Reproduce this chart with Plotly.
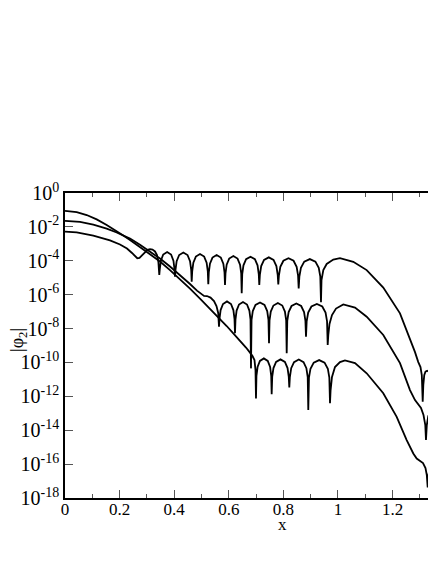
import numpy as np
import plotly.graph_objects as go

# x positions and log10(|phi_2|), one list pair per curve
# top curve: oscillations near 1e-4
x_top = [0.0, 0.0429, 0.1037, 0.1648, 0.2015, 0.2271, 0.2454, 0.2564, 0.2648, 0.2729,
         0.2821, 0.2930, 0.3022, 0.3114, 0.3205, 0.3297, 0.3370, 0.3421, 0.3454,
         0.3471, 0.3512, 0.3598, 0.3742, 0.3885, 0.3972, 0.4012, 0.4029,
         0.4047, 0.4090, 0.4182, 0.4335, 0.4488, 0.4580, 0.4623, 0.4641,
         0.4659, 0.4702, 0.4793, 0.4945, 0.5097, 0.5188, 0.5231, 0.5249,
         0.5267, 0.5310, 0.5402, 0.5555, 0.5708, 0.5800, 0.5843, 0.5861,
         0.5879, 0.5922, 0.6014, 0.6167, 0.6320, 0.6412, 0.6455, 0.6473,
         0.6492, 0.6537, 0.6634, 0.6795, 0.6956, 0.7053, 0.7098, 0.7117,
         0.7138, 0.7187, 0.7291, 0.7465, 0.7639, 0.7743, 0.7792, 0.7813,
         0.7835, 0.7888, 0.8000, 0.8187, 0.8373, 0.8485, 0.8538, 0.8560,
         0.8585, 0.8642, 0.8764, 0.8969, 0.9173, 0.9295, 0.9352, 0.9377,
         0.9396, 0.9462, 0.9586, 0.9828, 1.0073, 1.0560, 1.1051, 1.1659, 1.2271, 1.2516,
         1.2637, 1.2821, 1.2941, 1.3022, 1.3070, 1.3103, 1.3125, 1.3161, 1.3205, 1.3267,
         1.3333, 1.3377, 1.3410, 1.3433, 1.3462, 1.3517, 1.3590, 1.3700]
e_top = [-2.28, -2.32, -2.51, -2.80, -3.04, -3.28, -3.54, -3.75, -3.85, -3.83,
         -3.66, -3.47, -3.35, -3.31, -3.34, -3.45, -3.66, -4.07, -4.84,
         -4.51, -3.99, -3.63, -3.48, -3.63, -3.99, -4.51, -4.94,
         -4.54, -4.02, -3.66, -3.51, -3.66, -4.02, -4.54, -5.24,
         -4.63, -4.11, -3.75, -3.60, -3.75, -4.11, -4.63, -5.39,
         -4.69, -4.17, -3.81, -3.66, -3.81, -4.17, -4.69, -5.43,
         -4.75, -4.23, -3.87, -3.72, -3.87, -4.23, -4.75, -5.92,
         -4.79, -4.27, -3.91, -3.76, -3.91, -4.27, -4.79, -5.43,
         -4.83, -4.31, -3.95, -3.80, -3.95, -4.31, -4.83, -5.40,
         -4.88, -4.36, -4.00, -3.85, -4.00, -4.36, -4.88, -5.63,
         -4.93, -4.41, -4.05, -3.90, -4.05, -4.41, -4.93, -6.45,
         -5.14, -4.55, -4.19, -3.93, -3.85, -4.06, -4.55, -5.58, -7.10, -8.09,
         -8.59, -9.39, -9.98, -10.27, -10.74, -12.32, -11.33, -10.74, -10.54, -10.49,
         -10.54, -10.74, -11.33, -12.12, -11.16, -10.68, -10.54, -10.50]

# middle curve: oscillations near 1e-7
x_mid = [0.0, 0.0549, 0.1037, 0.1527, 0.1894, 0.2136, 0.2381, 0.2747, 0.3114, 0.3480,
         0.3846, 0.4212, 0.4579, 0.4835, 0.5007, 0.5092, 0.5201, 0.5330, 0.5458, 0.5549,
         0.5612, 0.5641,
         0.5659, 0.5700, 0.5788, 0.5934, 0.6081, 0.6168, 0.6209, 0.6227,
         0.6245, 0.6286, 0.6374, 0.6520, 0.6667, 0.6754, 0.6795, 0.6813,
         0.6833, 0.6879, 0.6978, 0.7143, 0.7308, 0.7407, 0.7453, 0.7473,
         0.7492, 0.7538, 0.7635, 0.7797, 0.7959, 0.8056, 0.8102, 0.8121,
         0.8142, 0.8192, 0.8298, 0.8475, 0.8651, 0.8757, 0.8807, 0.8828,
         0.8852, 0.8908, 0.9027, 0.9226, 0.9424, 0.9544, 0.9599, 0.9623,
         0.9645, 0.9689, 0.9780, 0.9927, 1.0194, 1.0623, 1.1051, 1.1659, 1.2271, 1.2637,
         1.2821, 1.2949, 1.3040, 1.3132, 1.3198, 1.3223, 1.3253, 1.3308, 1.3425, 1.3535,
         1.3626]
e_mid = [-1.64, -1.70, -1.86, -2.10, -2.33, -2.53, -2.69, -3.06, -3.45, -3.87,
         -4.34, -4.84, -5.37, -5.76, -5.99, -6.07, -6.08, -6.17, -6.38, -6.67,
         -7.08, -7.89,
         -7.43, -6.91, -6.55, -6.40, -6.55, -6.91, -7.43, -8.28,
         -7.46, -6.94, -6.58, -6.43, -6.58, -6.94, -7.46, -10.35,
         -7.49, -6.97, -6.61, -6.46, -6.61, -6.97, -7.49, -8.87,
         -7.52, -7.00, -6.64, -6.49, -6.64, -7.00, -7.52, -9.46,
         -7.55, -7.03, -6.67, -6.52, -6.67, -7.03, -7.55, -8.48,
         -7.58, -7.06, -6.70, -6.55, -6.70, -7.06, -7.58, -8.97,
         -8.38, -7.73, -7.20, -6.82, -6.58, -6.76, -7.30, -8.38, -10.04, -11.63,
         -12.22, -12.51, -12.69, -13.10, -13.70, -14.58, -13.70, -13.16, -12.96, -13.02,
         -13.16]

# bottom curve: oscillations near 1e-10
x_bot = [0.0, 0.0429, 0.0795, 0.1161, 0.1527, 0.1894, 0.2136, 0.2381, 0.2747, 0.3114,
         0.3480, 0.3846, 0.4212, 0.4579, 0.4945, 0.5311, 0.5615, 0.5923, 0.6165, 0.6410,
         0.6630, 0.6777, 0.6868, 0.6941, 0.6978, 0.6996,
         0.7013, 0.7054, 0.7140, 0.7284, 0.7427, 0.7514, 0.7554, 0.7571,
         0.7590, 0.7636, 0.7732, 0.7894, 0.8055, 0.8152, 0.8197, 0.8216,
         0.8237, 0.8286, 0.8390, 0.8564, 0.8738, 0.8842, 0.8891, 0.8912,
         0.8936, 0.8992, 0.9111, 0.9310, 0.9508, 0.9628, 0.9683, 0.9707,
         0.9729, 0.9780, 0.9890, 1.0073, 1.0256, 1.0623, 1.1051, 1.1659, 1.2150, 1.2516,
         1.2758, 1.2883, 1.3004, 1.3114, 1.3205, 1.3253, 1.3286, 1.3315, 1.3370, 1.3443,
         1.3535, 1.3626]
e_bot = [-1.06, -1.13, -1.30, -1.56, -1.89, -2.24, -2.51, -2.77, -3.19, -3.60,
         -4.04, -4.55, -5.08, -5.64, -6.23, -6.82, -7.35, -7.85, -8.28, -8.71,
         -9.12, -9.42, -9.62, -9.86, -10.45, -12.12,
         -10.79, -10.27, -9.91, -9.76, -9.91, -10.27, -10.79, -11.88,
         -10.85, -10.33, -9.97, -9.82, -9.97, -10.33, -10.85, -11.47,
         -10.86, -10.34, -9.98, -9.83, -9.98, -10.34, -10.86, -12.81,
         -10.89, -10.37, -10.01, -9.86, -10.01, -10.37, -10.89, -12.41,
         -11.63, -10.86, -10.27, -9.98, -9.88, -10.04, -10.64, -11.82, -13.21, -14.58,
         -15.37, -15.67, -15.79, -15.94, -16.23, -16.65, -17.37, -16.65, -16.12, -15.96,
         -16.03, -16.17]

y_exponents = list(range(0, -19, -2))
y_ticktext = ["10<sup>%d</sup>" % k for k in y_exponents]

FONT = "Liberation Serif"

fig = go.Figure()
for xs, es in [(x_top, e_top), (x_mid, e_mid), (x_bot, e_bot)]:
    assert len(xs) == len(es)
    fig.add_trace(
        go.Scatter(
            x=xs,
            y=10.0 ** np.array(es),
            mode="lines",
            line={"color": "black", "width": 1.8},
            showlegend=False,
        )
    )

# the page body adds an 8px margin, so the figure is 8px smaller than the window
fig.update_layout(
    width=428,
    height=556,
    margin={"l": 57, "r": 0, "t": 185, "b": 66, "autoexpand": False},
    paper_bgcolor="white",
    plot_bgcolor="white",
    font={"family": FONT, "color": "black"},
    xaxis={
        "range": [0, 1.359],
        "tick0": 0,
        "dtick": 0.2,
        "ticks": "inside",
        "ticklen": 8,
        "tickwidth": 1,
        "tickcolor": "#555",
        "minor": {"dtick": 0.1, "ticks": "inside", "ticklen": 4, "tickcolor": "#555"},
        "showline": True,
        "linecolor": "black",
        "linewidth": 1.5,
        "mirror": "ticks",
        "showgrid": False,
        "zeroline": False,
        "automargin": False,
        "ticklabelstandoff": -5,
        "tickfont": {"size": 17},
    },
    yaxis={
        "type": "log",
        "range": [-18, 0],
        "tickvals": [10.0 ** k for k in y_exponents],
        "ticktext": y_ticktext,
        "ticks": "inside",
        "ticklen": 8,
        "tickwidth": 1,
        "tickcolor": "#555",
        "showline": True,
        "linecolor": "black",
        "linewidth": 1.5,
        "showgrid": False,
        "zeroline": False,
        "automargin": False,
        "tickfont": {"size": 20},
    },
    annotations=[
        {
            "text": "x",
            "xref": "paper",
            "yref": "paper",
            "x": 0.5876,
            "y": -0.086,
            "xanchor": "center",
            "yanchor": "middle",
            "showarrow": False,
            "font": {"size": 17},
        },
        {
            "text": "|φ<sub>2</sub>|",
            "xref": "paper",
            "yref": "paper",
            "x": -0.127,
            "y": 0.518,
            "xanchor": "center",
            "yanchor": "middle",
            "textangle": -90,
            "showarrow": False,
            "font": {"size": 18},
        },
    ],
)

fig.write_html("out.html")
